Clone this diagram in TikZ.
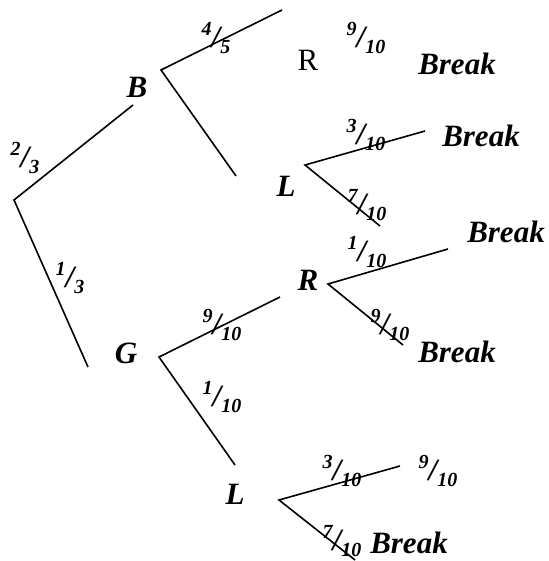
\documentclass[tikz,border=0pt]{standalone}
\usepackage{fontspec}
\setmainfont{Liberation Serif}
\newcommand{\phanso}[2]{\raisebox{0.4em}{\fontsize{10}{10}\selectfont #1}/\raisebox{-0.2em}{\fontsize{10}{10}\selectfont #2}}

\begin{document}
\begin{tikzpicture}[x=0.5pt, y=-0.5pt, line width=0.8pt,
    nhan/.style={inner sep=0pt, font=\fontsize{15.5}{18}\selectfont\bfseries\itshape}]
    \useasboundingbox (0,0) rectangle (548,561);

    % Các điểm đầu mút của nhánh
    \coordinate (O) at (14,200);
    \coordinate (B1) at (133,105);
    \coordinate (G1) at (88,367);
    \coordinate (B) at (161,70);
    \coordinate (BR) at (282,10);
    \coordinate (BL) at (236,176);
    \coordinate (L) at (305,165);
    \coordinate (LR) at (425,131);
    \coordinate (LL) at (380,226);
    \coordinate (G) at (159,357);
    \coordinate (GR) at (280,297);
    \coordinate (GL) at (235,465);
    \coordinate (R) at (328,284);
    \coordinate (RR) at (448,249);
    \coordinate (RL) at (403,345);
    \coordinate (M) at (279,500);
    \coordinate (MR) at (400,466);
    \coordinate (ML) at (355,560);

    % Các nhánh cây
    \draw (B1) -- (O) -- (G1);
    \draw (BR) -- (B) -- (BL);
    \draw (LR) -- (L) -- (LL);
    \draw (GR) -- (G) -- (GL);
    \draw (RR) -- (R) -- (RL);
    \draw (MR) -- (M) -- (ML);

    % Tên các nút
    \node[nhan] (tB) at (137,87) {B};
    \node[nhan] (tG) at (126,353) {G};
    \node[nhan] (tL1) at (286,186) {L};
    \node[nhan] (tR) at (308,280) {R};
    \node[nhan] (tL2) at (235,494) {L};
    \node[nhan, font=\fontsize{15.5}{18}\selectfont] (tR0) at (308,60) {R};

    % Xác suất trên các nhánh
    \node[nhan] (p1) at (25,158) {\phanso{2}{3}};
    \node[nhan] (p2) at (70,278) {\phanso{1}{3}};
    \node[nhan] (p3) at (216,38) {\phanso{4}{5}};
    \node[nhan] (p4) at (366,38) {\phanso{9}{10}};
    \node[nhan] (p5) at (366,135) {\phanso{3}{10}};
    \node[nhan] (p6) at (367,205) {\phanso{7}{10}};
    \node[nhan] (p7) at (367,252) {\phanso{1}{10}};
    \node[nhan] (p8) at (390,325) {\phanso{9}{10}};
    \node[nhan] (p9) at (222,325) {\phanso{9}{10}};
    \node[nhan] (p10) at (222,397) {\phanso{1}{10}};
    \node[nhan] (p11) at (342,471) {\phanso{3}{10}};
    \node[nhan] (p12) at (438,471) {\phanso{9}{10}};
    \node[nhan] (p13) at (342,541) {\phanso{7}{10}};

    % Kết quả
    \node[nhan] (k1) at (457,64) {Break};
    \node[nhan] (k2) at (481,136) {Break};
    \node[nhan] (k3) at (506,232) {Break};
    \node[nhan] (k4) at (457,352) {Break};
    \node[nhan] (k5) at (409,543) {Break};
\end{tikzpicture}
\end{document}
